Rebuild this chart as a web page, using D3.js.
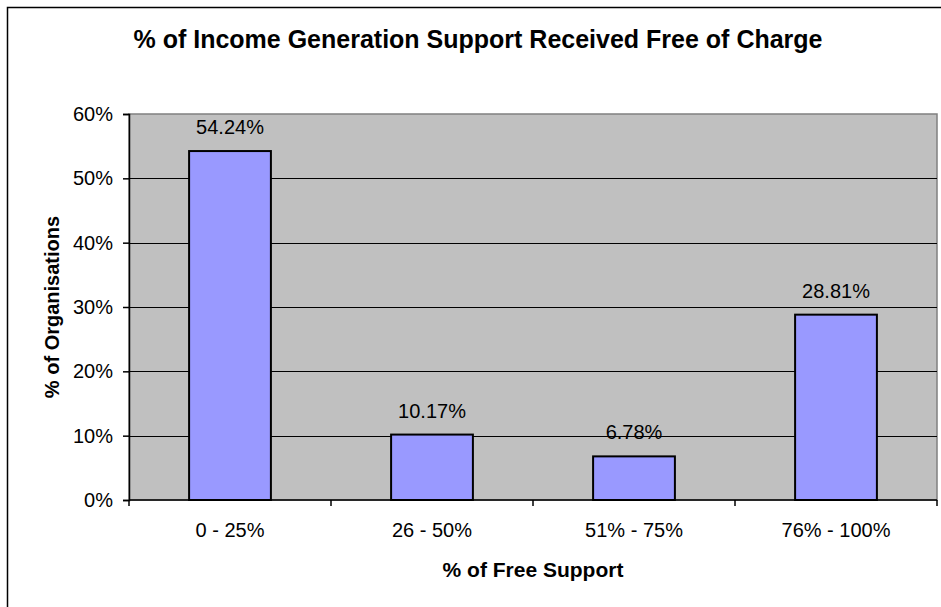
<!DOCTYPE html>
<html>
<head>
<meta charset="utf-8">
<script src="https://cdn.jsdelivr.net/npm/d3@7"></script>
<style>
  html, body { margin: 0; padding: 0; background: #fff; }
  svg { display: block; font-family: "Liberation Sans", Arial, sans-serif; }
</style>
</head>
<body>
<svg id="chart" width="941" height="607"></svg>
<script>
// Share of organisations by the portion of income-generation support received free
const categories = ["0 - 25%", "26 - 50%", "51% - 75%", "76% - 100%"];
const values = [54.24, 10.17, 6.78, 28.81];
const yTicks = [0, 10, 20, 30, 40, 50, 60];

const titleText = "% of Income Generation Support Received Free of Charge";
const xTitle = "% of Free Support";
const yTitle = "% of Organisations";

const svg = d3.select("#chart");
const W = 941, H = 607;
const plot = { left: 129, top: 114, right: 937, bottom: 500 };

// Outer chart frame
svg.append("rect")
  .attr("x", 7.5).attr("y", 7.5)
  .attr("width", W + 10).attr("height", H + 10)
  .attr("fill", "#fff").attr("stroke", "#000").attr("stroke-width", 1.5);

svg.append("text")
  .attr("x", (133 + 823) / 2).attr("y", 48)
  .attr("text-anchor", "middle")
  .attr("font-weight", "bold").attr("font-size", 25)
  .attr("fill", "#000")
  .text(titleText);

const x = d3.scaleBand().domain(categories).range([plot.left, plot.right]).paddingInner(0).paddingOuter(0);
const y = d3.scaleLinear().domain([0, 60]).range([plot.bottom, plot.top]);

// Plot background
svg.append("rect")
  .attr("x", plot.left).attr("y", plot.top)
  .attr("width", plot.right - plot.left).attr("height", plot.bottom - plot.top)
  .attr("fill", "#C0C0C0").attr("stroke", "#808080").attr("stroke-width", 1.5);

// Gridlines
svg.append("g").selectAll("line")
  .data(yTicks.filter(t => t > 0 && t < 60))
  .join("line")
  .attr("x1", plot.left).attr("x2", plot.right)
  .attr("y1", d => Math.round(y(d)) + 0.5).attr("y2", d => Math.round(y(d)) + 0.5)
  .attr("stroke", "#000").attr("stroke-width", 1);

// Bars
const barW = x.bandwidth() * 0.405;
svg.append("g").selectAll("rect")
  .data(values)
  .join("rect")
  .attr("x", (d, i) => x(categories[i]) + (x.bandwidth() - barW) / 2)
  .attr("y", d => y(d))
  .attr("width", barW)
  .attr("height", d => y(0) - y(d))
  .attr("fill", "#9999FF")
  .attr("stroke", "#000").attr("stroke-width", 2);

// Value labels
svg.append("g").selectAll("text")
  .data(values)
  .join("text")
  .attr("x", (d, i) => x(categories[i]) + x.bandwidth() / 2)
  .attr("y", d => y(d) - 17)
  .attr("text-anchor", "middle")
  .attr("font-size", 20)
  .attr("fill", "#000")
  .text(d => d.toFixed(2) + "%");

// Y axis
const yAxis = d3.axisLeft(y).tickValues(yTicks).tickFormat(d => d + "%").tickSize(6).tickPadding(10);
const gy = svg.append("g").attr("transform", `translate(${plot.left},0)`).call(yAxis);
gy.select(".domain").attr("stroke", "#000").attr("stroke-width", 1.5);
gy.selectAll(".tick line").attr("stroke", "#000").attr("stroke-width", 1.5);
gy.selectAll(".tick text").attr("font-size", 20).attr("font-family", "Liberation Sans, Arial, sans-serif").attr("fill", "#000");

// X axis: ticks at category boundaries
const gx = svg.append("g").attr("transform", `translate(0,${plot.bottom})`);
gx.append("line").attr("x1", plot.left).attr("x2", plot.right).attr("y1", 0).attr("y2", 0)
  .attr("stroke", "#000").attr("stroke-width", 1.5);
const boundaries = categories.map(c => x(c)).concat([x(categories[categories.length - 1]) + x.bandwidth()]);
gx.selectAll("line.bt").data(boundaries).join("line").attr("class", "bt")
  .attr("x1", d => d).attr("x2", d => d).attr("y1", 0).attr("y2", 6)
  .attr("stroke", "#000").attr("stroke-width", 1.5);
gx.selectAll("text").data(categories).join("text")
  .attr("x", d => x(d) + x.bandwidth() / 2)
  .attr("y", 37)
  .attr("text-anchor", "middle")
  .attr("font-size", 20).attr("fill", "#000")
  .text(d => d);

// Axis titles
svg.append("text")
  .attr("x", (plot.left + plot.right) / 2).attr("y", 577)
  .attr("text-anchor", "middle")
  .attr("font-weight", "bold").attr("font-size", 21).attr("fill", "#000")
  .text(xTitle);

svg.append("text")
  .attr("transform", `translate(59,${(plot.top + plot.bottom) / 2}) rotate(-90)`)
  .attr("text-anchor", "middle")
  .attr("font-weight", "bold").attr("font-size", 20).attr("fill", "#000")
  .text(yTitle);
</script>
</body>
</html>
